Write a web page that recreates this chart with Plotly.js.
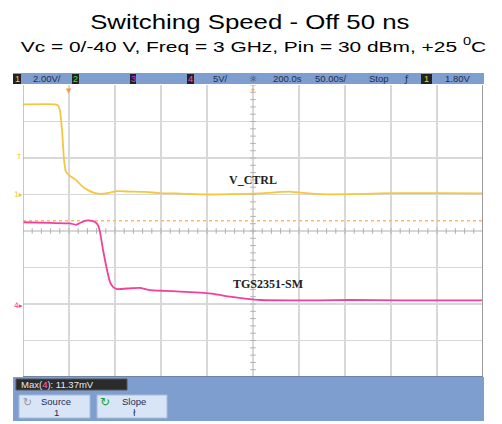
<!DOCTYPE html>
<html>
<head>
<meta charset="utf-8">
<script src="https://cdn.plot.ly/plotly-3.0.1.min.js"></script>
<style>html,body{margin:0;padding:0;background:#fff;}#chart{width:502px;height:424px;}</style>
</head>
<body>
<div id="chart"></div>
<script>
// ---- Data (time in ns, amplitude in screen divisions) ----
const vctrlTime = [0, 34.8, 38.0, 40.2, 42.4, 44.6, 46.7, 51.1, 57.6, 64.1, 70.7, 78.3, 87.0, 94.6, 102.2, 116.3, 132.6, 148.9, 165.2, 187.0, 203.3, 225.0, 257.6, 279.3, 290.2, 301.1, 322.8, 355.4, 388.0, 420.7, 453.3, 500];
const vctrlDiv  = [3.47, 3.47, 3.44, 3.30, 2.77, 1.95, 1.62, 1.51, 1.40, 1.23, 1.12, 1.04, 1.02, 1.05, 1.09, 1.08, 1.07, 1.04, 1.03, 1.01, 1.00, 1.01, 1.03, 1.07, 1.08, 1.05, 1.01, 1.01, 1.03, 1.04, 1.04, 1.03];
const rfTime = [0, 29.3, 51.1, 57.6, 62.0, 66.3, 70.7, 75.0, 78.3, 81.5, 83.7, 87.0, 91.3, 94.6, 97.8, 102.2, 116.3, 127.2, 138.0, 154.3, 170.7, 192.4, 208.7, 225.0, 241.3, 257.6, 290.2, 322.8, 355.4, 409.8, 453.3, 500];
const rfDiv  = [0.24, 0.22, 0.21, 0.17, 0.22, 0.27, 0.29, 0.28, 0.25, 0.16, -0.03, -0.52, -1.07, -1.40, -1.53, -1.59, -1.57, -1.56, -1.62, -1.64, -1.66, -1.69, -1.73, -1.80, -1.85, -1.89, -1.90, -1.90, -1.89, -1.90, -1.90, -1.90];
const triggerLevel = 0.28;
const traceLabels = ["V_CTRL", "TGS2351-SM"];
const labelTime = [250, 266];
const labelDiv = [1.40, -1.45];
const headerTexts = ["2.00V/", "5V/", "200.0s", "50.00s/", "Stop", "1.80V"];
const measureText = "Max(<span style='color:#ff66cc'>4</span>): 11.37mV";

// ---- pixel helpers for decoration ----
const L = 23, R = 483, T = 85, B = 377;
const X = px => (px - L) / (R - L);
const Y = py => (B - py) / (B - T);

const shapes = [];
const annotations = [];
const rect = (x0, y0, x1, y1, fill, line) => shapes.push({type:'rect', xref:'paper', yref:'paper', x0:X(x0), x1:X(x1), y0:Y(y1), y1:Y(y0), fillcolor:fill, line:{width: line ? 1 : 0, color: line || fill}, layer:'above'});
const txt = (px, py, text, color, size, family, xanchor) => annotations.push({xref:'paper', yref:'paper', x:X(px), y:Y(py), text:text, showarrow:false, xanchor:xanchor||'center', yanchor:'middle', font:{color:color, size:size, family:family||'Liberation Sans Narrow, Liberation Sans, Arial'}});

// Title (indices 0 and 1, widened after render to match the reference's stretched lettering)
txt(250, 22, "Switching Speed - Off 50 ns", '#000', 20, 'Liberation Sans, Arial');
txt(253, 45, "Vc = 0/-40 V, Freq = 3 GHz, Pin = 30 dBm, +25 <sup>0</sup>C", '#000', 15.5, 'Liberation Sans, Arial');

// Top status bar
rect(13, 73, 484, 84, '#7e9ecf');
rect(13, 74, 21, 84, '#222');  txt(17, 79, '1', '#f7d030', 9);
txt(31, 79, headerTexts[0], '#1d2d55', 9.5, null, 'left');
rect(72, 74, 79, 84, '#222');  txt(75.5, 79, '2', '#40e040', 9);
rect(130, 74, 136, 84, '#222'); txt(133, 79, '3', '#c040ff', 9);
rect(187, 74, 194, 84, '#222'); txt(190.5, 79, '4', '#ff50c0', 9);
txt(211, 79, headerTexts[1], '#1d2d55', 9.5, null, 'left');
txt(253, 79, '☼', '#1d2d55', 9, 'DejaVu Sans');
txt(271, 79, headerTexts[2], '#1d2d55', 9.5, null, 'left');
txt(313, 79, headerTexts[3], '#1d2d55', 9.5, null, 'left');
txt(367, 79, headerTexts[4], '#1d2d55', 9.5, null, 'left');
txt(406, 79, 'ƒ', '#1d2d55', 9, 'DejaVu Sans');
rect(421, 74, 432, 84, '#222'); txt(426.5, 79, '1', '#f7d030', 9);
txt(443, 79, headerTexts[5], '#1d2d55', 9.5, null, 'left');

// Bottom softkey panel
rect(13, 377, 484, 421, '#7e9ecf');
rect(16, 379, 127, 390, '#2b2b2b', '#555');
txt(19, 384.5, measureText, '#e8e8e8', 9.5, null, 'left');
rect(19, 395, 90, 418, '#d7e5f6', '#aabbd8');
rect(97, 395, 167, 418, '#d7e5f6', '#aabbd8');
txt(27, 402, '↻', '#999', 11, 'DejaVu Sans');
txt(56, 401.5, 'Source', '#1d2d55', 9.5);
txt(56, 412.5, '1', '#1d2d55', 9.5);
txt(105, 402, '↻', '#1aa01a', 12, 'DejaVu Sans');
txt(134, 401.5, 'Slope', '#1d2d55', 9.5);
txt(134, 412.5, 'ł', '#1d2d55', 9, 'DejaVu Sans');

// Channel markers on the left
txt(18.5, 157, 'T', '#f3c233', 7, 'DejaVu Sans');
txt(18.5, 194, '1▸', '#f3c233', 7.5, 'DejaVu Sans');
txt(18.5, 305, '4▸', '#f2409a', 7.5, 'DejaVu Sans');

// trigger position markers
annotations.push({xref:'x', yref:'paper', x:50, y:1.0, yanchor:'top', text:'▼', showarrow:false, font:{color:'#f0a040', size:7, family:'DejaVu Sans'}});
annotations.push({xref:'x', yref:'paper', x:250, y:1.0, yanchor:'top', text:'▼', showarrow:false, font:{color:'#f0b070', size:5, family:'DejaVu Sans'}});

// Trace labels
traceLabels.forEach((t, i) => annotations.push({xref:'x', yref:'y', x:labelTime[i], y:labelDiv[i], text:'<b>'+t+'</b>', showarrow:false, font:{family:'Liberation Serif, Times New Roman', size:12, color:'#222'}}));

// Plot frame & center axes
shapes.push({type:'line', xref:'x', yref:'y', x0:0, x1:0, y0:-4, y1:4, line:{color:'#b5b5b5', width:1.5}});
shapes.push({type:'line', xref:'x', yref:'y', x0:500, x1:500, y0:-4, y1:4, line:{color:'#9a9a9a', width:2}});
shapes.push({type:'line', xref:'x', yref:'y', x0:0, x1:500, y0:-4, y1:-4, line:{color:'#6f85a8', width:2}});
shapes.push({type:'line', xref:'x', yref:'y', x0:250, x1:250, y0:-4, y1:4, line:{color:'#c8c8c8', width:1, dash:'dot'}, layer:'below'});
shapes.push({type:'line', xref:'x', yref:'y', x0:0, x1:500, y0:0, y1:0, line:{color:'#c8c8c8', width:1, dash:'dot'}, layer:'below'});

// minor tick marks along centre axes
const hx = [], hy = [], vx = [], vy = [];
for (let i = 0; i <= 50; i++) { hx.push(i * 10); hy.push(0); }
for (let j = 0; j <= 40; j++) { vx.push(250); vy.push(-4 + j * 0.2); }

const traces = [
  {x: hx, y: hy, mode:'markers', marker:{symbol:'line-ns', size:4, line:{width:1, color:'#b0b0b0'}}, hoverinfo:'skip'},
  {x: vx, y: vy, mode:'markers', marker:{symbol:'line-ew', size:4, line:{width:1, color:'#b0b0b0'}}, hoverinfo:'skip'},
  {x: [0, 500], y: [triggerLevel, triggerLevel], mode:'lines', line:{color:'#f8b67a', width:1.5, dash:'dot'}, hoverinfo:'skip'},
  {x: vctrlTime, y: vctrlDiv, mode:'lines', line:{color:'#f5c73e', width:1.8, shape:'spline', smoothing:0.4}, name:'V_CTRL'},
  {x: rfTime, y: rfDiv, mode:'lines', line:{color:'#f2409a', width:1.8, shape:'spline', smoothing:0.4}, name:'TGS2351-SM'}
];

const layout = {
  width: 502, height: 424,
  margin: {l: L, r: 502 - R, t: T, b: 424 - B, pad: 0},
  paper_bgcolor: '#fff', plot_bgcolor: '#fff',
  showlegend: false,
  xaxis: {range:[0, 500], tick0:0, dtick:50, showticklabels:false, ticks:'', showgrid:true, gridcolor:'#d8d8d8', gridwidth:1.5, zeroline:false, showline:false, fixedrange:true},
  yaxis: {range:[-4, 4], tick0:0, dtick:1, showticklabels:false, ticks:'', showgrid:true, gridcolor:'#d8d8d8', gridwidth:1.5, zeroline:false, showline:false, fixedrange:true},
  shapes: shapes,
  annotations: annotations
};

Plotly.newPlot('chart', traces, layout, {displayModeBar:false, staticPlot:true}).then(() => {
  [[0, 1.29], [1, 1.35]].forEach(([i, s]) => {
    const t = document.querySelector('#chart g.annotation[data-index="' + i + '"] text');
    if (t) {
      t.style.transformBox = 'fill-box';
      t.style.transformOrigin = 'center';
      t.style.transform = 'scaleX(' + s + ')';
    }
  });
});
</script>
</body>
</html>
